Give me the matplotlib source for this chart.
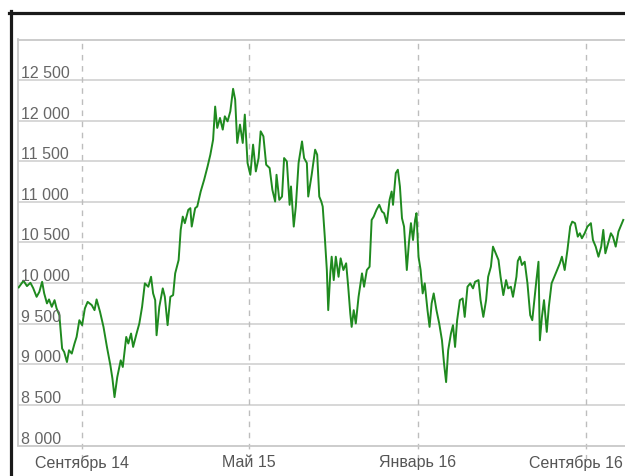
"""
plot.py — index line chart (Jun 2014 – Oct 2016), Russian month labels.
Saves out.png.

    python plot.py
"""

import matplotlib
matplotlib.use("Agg")                                  # no display, just write the file
import matplotlib.pyplot as plt
import matplotlib.transforms as mtransforms
from matplotlib.lines import Line2D
import pandas as pd

# series: day number since 2014-06-01 and index value
START = pd.Timestamp("2014-06-01")
days = [
    0, 7, 12, 17, 21, 26, 30, 34, 37, 41, 44, 48, 52, 55, 59, 63, 66, 70, 73, 77,
    81, 84, 88, 92, 96, 100, 106, 110, 113, 118, 123, 128, 133, 136, 139, 143, 148, 151, 156, 159,
    163, 166, 171, 175, 179, 183, 188, 192, 195, 198, 200, 204, 209, 212, 216, 220, 224, 227, 232, 235,
    238, 241, 246, 249, 251, 256, 259, 264, 269, 274, 278, 282, 285, 288, 292, 296, 299, 303, 307, 311,
    314, 317, 321, 325, 328, 332, 336, 340, 344, 348, 351, 355, 359, 364, 368, 372, 374, 378, 382, 385,
    389, 393, 395, 399, 402, 406, 411, 414, 418, 420, 425, 430, 433, 436, 439, 441, 444, 447, 449, 452,
    454, 457, 460, 464, 467, 471, 475, 478, 481, 483, 486, 489, 493, 498, 501, 505, 509, 512, 515, 519,
    523, 527, 530, 534, 538, 541, 543, 547, 550, 553, 556, 559, 563, 566, 569, 572, 575, 577, 580, 583,
    586, 589, 593, 596, 599, 602, 606, 610, 614, 617, 620, 623, 627, 630, 633, 636, 640, 644, 647, 651,
    655, 659, 662, 667, 670, 674, 678, 681, 685, 688, 692, 696, 699, 703, 707, 710, 714, 717, 722, 724,
    727, 730, 734, 738, 742, 745, 748, 751, 754, 756, 759, 762, 766, 769, 773, 777, 780, 785, 788, 792,
    796, 800, 803, 807, 811, 814, 817, 821, 825, 830, 833, 837, 841, 845, 848, 851, 855, 859, 862, 866,
    870, 874, 877,
]
values = [
    9947, 10029, 9963, 10004, 9939, 9831, 9893, 10016, 9873, 9750, 9799, 9708, 9790, 9688, 9605, 9194, 9152, 9028, 9173, 9132,
    9256, 9337, 9543, 9482, 9688, 9769, 9729, 9667, 9799, 9646, 9461, 9214, 8988, 8823, 8596, 8843, 9049, 8967, 9337, 9256,
    9379, 9214, 9379, 9503, 9708, 9997, 9955, 10078, 9873, 9790, 9358, 9708, 9935, 9831, 9482, 9831, 9852, 10120, 10284, 10655,
    10819, 10738, 10902, 10923, 10696, 10923, 10943, 11128, 11272, 11437, 11581, 11766, 12174, 11911, 12034, 11890, 12054, 11992, 12116, 12393,
    12260, 11726, 11952, 11726, 12075, 11479, 11334, 11705, 11375, 11540, 11869, 11807, 11458, 11417, 11149, 11004, 11334, 11025, 11066, 11540,
    11498, 10964, 11190, 10696, 10943, 11479, 11745, 11540, 11479, 11066, 11334, 11643, 11581, 11066, 11004, 10943, 10572, 10161, 9667, 10120,
    10325, 10037, 10325, 10078, 10305, 10161, 10244, 9955, 9626, 9461, 9667, 9503, 9831, 10120, 9955, 10161, 10202, 10778, 10819, 10902,
    10964, 10881, 10861, 10738, 11025, 11128, 10964, 11355, 11396, 11190, 10799, 10696, 10161, 10491, 10738, 10531, 10778, 10861, 10325, 10161,
    9873, 9997, 9667, 9461, 9750, 9873, 9667, 9503, 9296, 9009, 8781, 9173, 9379, 9482, 9214, 9543, 9790, 9811, 9584, 9955,
    9997, 9935, 10016, 10037, 9790, 9584, 9790, 10078, 10202, 10449, 10367, 10284, 10078, 9852, 10037, 9935, 9955, 9831, 10078, 10272,
    10325, 10223, 10263, 9997, 9605, 9543, 9790, 10037, 10263, 9296, 9584, 9790, 9399, 9708, 9997, 10078, 10140, 10244, 10325, 10161,
    10408, 10696, 10757, 10738, 10572, 10614, 10552, 10614, 10696, 10738, 10531, 10449, 10325, 10449, 10655, 10367, 10491, 10614, 10572, 10449,
    10634, 10717, 10778,
]

# month ticks (dashed verticals) and their labels
tick_dates = ["2014-09-01", "2015-05-01", "2016-01-01", "2016-09-01"]
tick_labels = ["Сентябрь 14", "Май 15", "Январь 16", "Сентябрь 16"]
y_levels = [8000, 8500, 9000, 9500, 10000, 10500, 11000, 11500, 12000, 12500]

dates = START + pd.to_timedelta(days, unit="D")
ticks = pd.to_datetime(tick_dates)

plt.rcParams["font.family"] = ["Liberation Sans", "DejaVu Sans"]
fig = plt.figure(figsize=(6.25, 4.76), dpi=100)
ax = fig.add_axes([18 / 625, 1 - 445.5 / 476, 1 - 18 / 625, 406 / 476])

# horizontal grid (8000 and 13000 are the frame)
for v in y_levels[1:]:
    ax.axhline(v, color="#d4d4d4", lw=1.3, zorder=1)

# dashed month lines, running a little below the frame like ticks
for t in ticks:
    ax.axvline(t, ymin=-0.035, ymax=1.0, color="#bdbdbd", lw=1.0,
               ls=(0, (4, 4)), clip_on=False, zorder=1)

ax.plot(dates, values, color="#1f8a1f", lw=1.4, zorder=3)

ax.set_ylim(8000, 13000)
ax.set_xlim(START - pd.Timedelta(days=1), START + pd.Timedelta(days=879.5))

# frame: gray on left/top/bottom, open on the right (cut by the image edge)
for side in ["left", "top", "bottom"]:
    ax.spines[side].set_color("#c8c8c8")
    ax.spines[side].set_linewidth(1.3)
ax.spines["right"].set_visible(False)

ax.set_yticks([])
ax.set_xticks(ticks)
ax.set_xticklabels(tick_labels)
ax.tick_params(axis="x", length=0, pad=7, labelsize=11.5, labelcolor="#555555")

# last label is pushed left so it stays inside the picture
last = ax.get_xticklabels()[-1]
last.set_transform(last.get_transform()
                   + mtransforms.ScaledTranslation(-10 / 100, 0, fig.dpi_scale_trans))

# y labels sit inside the plot, just above their grid line
lab_tr = mtransforms.offset_copy(ax.get_yaxis_transform(), fig=fig, x=3, y=2, units="dots")
for v in y_levels:
    ax.text(0, v, f"{v:,}".replace(",", " "), transform=lab_tr,
            ha="left", va="baseline", fontsize=11.5, color="#666666", zorder=4)

# thick black border along the top and left of the picture
fig.add_artist(Line2D([10.5 / 625, 10.5 / 625], [0, 1 - 11 / 476],
                      transform=fig.transFigure, color="#1a1a1a", lw=2.3))
fig.add_artist(Line2D([9 / 625, 1], [1 - 12.5 / 476, 1 - 12.5 / 476],
                      transform=fig.transFigure, color="#1a1a1a", lw=2.3))

fig.savefig("out.png", dpi=100, facecolor="white")
